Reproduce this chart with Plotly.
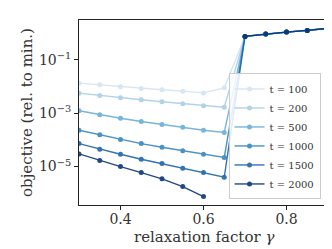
import plotly.graph_objects as go

gamma = [0.3, 0.35, 0.4, 0.45, 0.5, 0.55, 0.6, 0.65, 0.7, 0.75, 0.8, 0.85, 0.9]
tail = [0.75, 0.92, 1.09, 1.26, 1.5]

log_t100 = [-1.875, -1.94, -2.01, -2.075, -2.125, -2.175, -2.24, -2.05]
log_t200 = [-2.25, -2.34, -2.425, -2.5, -2.575, -2.65, -2.725, -2.775]
log_t500 = [-2.91, -3.06, -3.19, -3.31, -3.425, -3.525, -3.64, -3.725]
log_t1000 = [-3.64, -3.81, -3.99, -4.14, -4.275, -4.41, -4.54, -4.66]
log_t1500 = [-4.14, -4.35, -4.54, -4.725, -4.89, -5.06, -5.225, -5.4]
log_t2000 = [-4.525, -4.775, -5.0, -5.225, -5.46, -5.75, -6.125, None]

labels = ["t = 100", "t = 200", "t = 500", "t = 1000", "t = 1500", "t = 2000"]
colors = ["#d4e4f3", "#a9cfe5", "#6aaed6", "#3787c0", "#1c64aa", "#0b3577"]
series = [log_t100, log_t200, log_t500, log_t1000, log_t1500, log_t2000]

x_title = "relaxation factor <i>γ</i>"
y_title = "objective (rel. to min.)"

font_family = "DejaVu Serif"

fig = go.Figure()
for lab, col, s in zip(labels, colors, series):
    y = [None if v is None else 10 ** v for v in s] + tail
    fig.add_trace(go.Scatter(
        x=gamma, y=y, mode="lines+markers", name=lab,
        line=dict(color=col, width=1.4),
        marker=dict(color=col, size=5),
        opacity=0.9,
    ))

fig.update_layout(
    width=332, height=249,
    margin=dict(l=71, r=12, t=12, b=52),
    plot_bgcolor="white", paper_bgcolor="white",
    font=dict(family=font_family, size=14, color="#333"),
    legend=dict(
        x=0.97, y=0.03, xanchor="right", yanchor="bottom",
        bgcolor="rgba(255,255,255,0.85)", bordercolor="#cccccc", borderwidth=1,
        font=dict(size=10, family=font_family),
        tracegroupgap=0, itemwidth=30,
    ),
)
fig.add_annotation(
    text=x_title, xref="paper", yref="paper", x=0.5, y=0,
    xanchor="center", yanchor="top", yshift=-21, showarrow=False,
    font=dict(size=15, family=font_family, color="#333"),
)
fig.update_xaxes(
    range=[0.3, 0.9], tickvals=[0.4, 0.6, 0.8], ticktext=["0.4", "0.6", "0.8"],
    ticks="outside", ticklen=4, tickcolor="#222", showgrid=False, zeroline=False,
    showline=True, linecolor="#222", linewidth=1, mirror=True,
    ticklabelstandoff=-3,
)
fig.update_yaxes(
    type="log", range=[-6.44, 0.49],
    tickvals=[1e-1, 1e-3, 1e-5],
    ticktext=["10<sup>−1</sup>", "10<sup>−3</sup>", "10<sup>−5</sup>"],
    ticks="outside", ticklen=4, tickcolor="#222", showgrid=False, zeroline=False,
    showline=True, linecolor="#222", linewidth=1, mirror=True,
    title=dict(text=y_title, font=dict(size=15), standoff=2),
)

fig.write_html("out.html")
